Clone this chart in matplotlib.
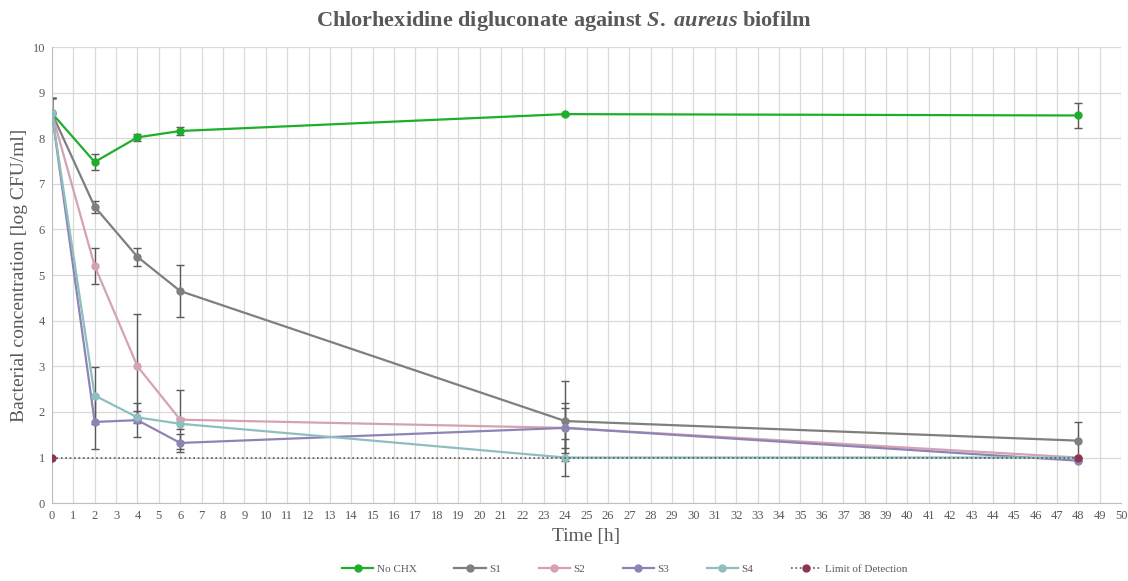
import matplotlib.pyplot as plt
import numpy as np

# data
time_h = [0, 2, 4, 6, 24, 48]

no_chx = [8.55, 7.48, 8.02, 8.16, 8.53, 8.50]
no_chx_err = [0.33, 0.17, 0.07, 0.08, 0.03, 0.28]

s1 = [8.55, 6.50, 5.40, 4.65, 1.80, 1.37]
s1_err = [0.33, 0.13, 0.20, 0.57, 0.88, 0.41]

s2 = [8.55, 5.20, 3.00, 1.83, 1.65, 1.00]
s2_err = [0.33, 0.40, 1.15, 0.65, 0.55, 0.0]

s3 = [8.55, 1.78, 1.82, 1.32, 1.65, 0.93]
s3_err = [0.33, 0.60, 0.37, 0.20, 0.43, 0.0]

s4 = [8.55, 2.36, 1.88, 1.74, 1.00, 1.00]
s4_err = [0.33, 0.62, 0.13, 0.12, 0.40, 0.0]

lod_x = [0, 48]
lod_y = [1, 1]

series = [
    ('No CHX', no_chx, no_chx_err, '#1fae2c'),
    ('S1', s1, s1_err, '#7f7f7f'),
    ('S2', s2, s2_err, '#d5a2b2'),
    ('S3', s3, s3_err, '#8d84b6'),
    ('S4', s4, s4_err, '#8dbfbe'),
]

serif = ['Liberation Serif', 'DejaVu Serif']
grey = '#595959'

plt.rcParams['mathtext.fontset'] = 'custom'
plt.rcParams['mathtext.it'] = 'Liberation Serif:italic:bold'
plt.rcParams['mathtext.rm'] = 'Liberation Serif:bold'

###############################################################################

fig = plt.figure(figsize=(11.28, 5.81), dpi=100)
ax = fig.add_axes([0.046, 0.134, 0.948, 0.785])

for name, y, err, col in series:
    ax.errorbar(time_h, y, yerr=err, fmt='none', ecolor=grey,
                elinewidth=1, capsize=3, capthick=1, zorder=2)
    ax.plot(time_h, y, color=col, lw=1.6, marker='o', markersize=5,
            label=name, zorder=3)

ax.plot(lod_x, lod_y, color=grey, lw=1.2, ls=':', marker='o',
        markersize=5, markerfacecolor='#8e3553',
        markeredgecolor='#8e3553', label='Limit of Detection', zorder=4)

ax.set_xlim(0, 50)
ax.set_ylim(0, 10)
ax.set_xticks(np.arange(0, 51, 1))
ax.set_yticks(np.arange(0, 11, 1))
ax.grid(True, color='#d9d9d9', lw=0.9)
ax.set_axisbelow(True)
for s in ['top', 'right']:
    ax.spines[s].set_visible(False)
for s in ['left', 'bottom']:
    ax.spines[s].set_color('#bfbfbf')
ax.tick_params(length=0, labelsize=9, colors=grey, pad=5)
for lab in ax.get_xticklabels() + ax.get_yticklabels():
    lab.set_family(serif)

ax.set_xlabel('Time [h]', fontsize=14, color=grey, family=serif, labelpad=4)
ax.set_ylabel('Bacterial concentration [log CFU/ml]', fontsize=14,
              color=grey, family=serif, labelpad=3)
fig.text(0.5, 0.963,
         r'Chlorhexidine digluconate against $\mathit{S.}$ $\mathit{aureus}$ biofilm',
         ha='center', va='center', fontsize=16, color=grey, family=serif,
         fontweight='bold')

fig.legend(loc='lower center', bbox_to_anchor=(0.554, -0.005), ncol=6,
           frameon=False, prop={'family': serif, 'size': 8},
           labelcolor=grey, columnspacing=3.4, handlelength=2.8,
           handletextpad=0.3)

fig.savefig('out.png')
